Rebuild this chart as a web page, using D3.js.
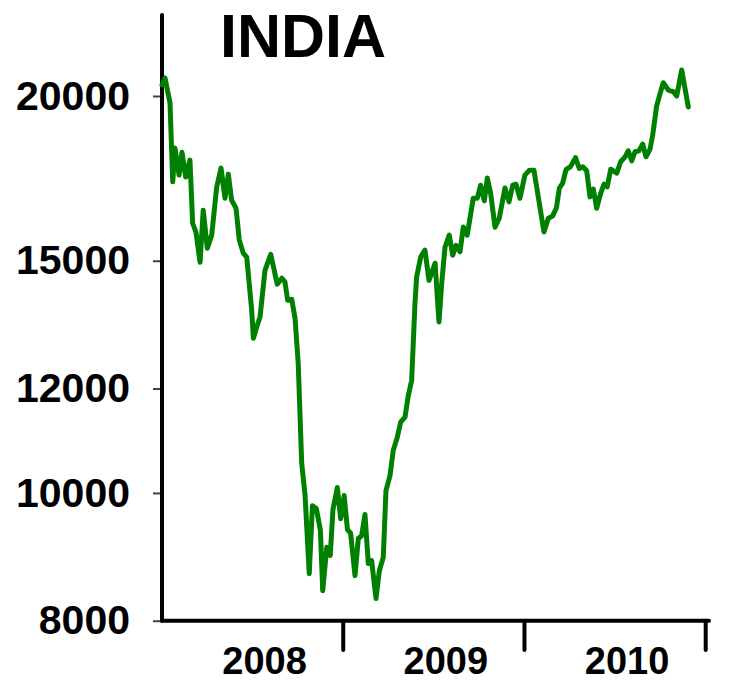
<!DOCTYPE html>
<html>
<head>
<meta charset="utf-8">
<script src="https://cdn.jsdelivr.net/npm/d3@7"></script>
<style>
  body { margin: 0; background: #fff; }
  svg { display: block; font-family: "Liberation Sans", Arial, sans-serif; font-weight: bold; }
</style>
</head>
<body>
<div id="chart"></div>
<script>
// months since Jan 2008 and index level
const months = [0, 0.20, 0.53, 0.71, 0.86, 1.13, 1.32, 1.57, 1.85, 2.03, 2.25, 2.52, 2.73, 3.00, 3.29, 3.62,
  3.91, 4.17, 4.39, 4.61, 4.90, 5.12, 5.38, 5.61, 5.94, 6.05, 6.27, 6.49, 6.82, 7.20, 7.63, 7.93,
  8.14, 8.32, 8.59, 8.81, 9.02, 9.25, 9.47, 9.75, 9.96, 10.22, 10.49, 10.64, 10.91, 11.14, 11.32,
  11.61, 11.83, 12.06, 12.28, 12.49, 12.78, 13.00, 13.22, 13.44, 13.66, 13.88, 14.17, 14.39, 14.65,
  14.83, 15.10, 15.31, 15.58, 15.80, 16.09, 16.31, 16.53, 16.75, 16.86, 17.13, 17.41, 17.68, 18.08,
  18.34, 18.52, 18.74, 19.02, 19.25, 19.47, 19.73, 19.95, 20.21, 20.61, 20.88, 21.10, 21.34, 21.54,
  21.76, 22.05, 22.33, 22.71, 22.98, 23.22, 23.44, 23.70, 24.03, 24.33, 24.63, 25.29, 25.58, 25.86,
  26.12, 26.31, 26.53, 26.75, 27.05, 27.38, 27.63, 27.86, 28.12, 28.34, 28.56, 28.78, 29.05, 29.27,
  29.48, 29.71, 30.11, 30.37, 30.66, 30.87, 31.10, 31.32, 31.58, 31.83, 32.05, 32.31, 32.49, 32.75,
  32.97, 33.19, 33.52, 33.85, 34.08, 34.41, 34.85];

const values = [20390, 20640, 19755, 17215, 18260, 17420, 18130, 17360, 17880, 16015, 15765, 14960,
  16385, 15330, 15685, 17055, 17635, 16730, 17450, 16675, 16440, 15550, 15200, 15095, 13755, 13100,
  13360, 13595, 14750, 15170, 14395, 14550, 14455, 14000, 14025, 13565, 12540, 10530, 9970, 8685,
  9780, 9730, 9365, 8430, 9095, 8965, 9715, 10095, 9560, 9955, 9380, 9320, 8655, 9235, 9280, 9630,
  8840, 8885, 8315, 8730, 8935, 10040, 10310, 10770, 11020, 11315, 11415, 11855, 12170, 13925, 14580,
  15100, 15280, 14495, 14935, 13480, 14420, 15365, 15685, 15145, 15410, 15235, 15910, 15685, 16730,
  16730, 17115, 16655, 17330, 16880, 15905, 16155, 17030, 16625, 17115, 17145, 16730, 17420, 17570,
  17565, 15775, 16155, 16215, 16455, 17030, 17175, 17585, 17680, 17960, 17620, 17675, 17550, 16770,
  17000, 16440, 16880, 17145, 17065, 17600, 17480, 17830, 17985, 18175, 17860, 18145, 18175, 18390,
  17985, 18220, 18680, 19650, 20070, 20470, 20210, 20150, 20000, 20930, 19620];

const yTicks = [8000, 10000, 12000, 15000, 20000];
const yearStarts = [0, 12, 24, 36];
const yearLabels = ["2008", "2009", "2010"];
const title = "INDIA";

const width = 729, height = 694;
const svg = d3.select("#chart").append("svg")
  .attr("width", width)
  .attr("height", height);

const x = d3.scaleLinear().domain([0, 36]).range([162, 705.7]);
const y = d3.scaleLog().domain([8000, 20000]).range([620.7, 96]);

// y axis
const yAxis = svg.append("g")
  .attr("transform", "translate(162,0)")
  .call(d3.axisLeft(y).tickValues(yTicks).tickFormat(d3.format("d")).tickSize(9).tickPadding(23));
yAxis.select(".domain").remove();
yAxis.selectAll(".tick line").attr("stroke", "#444").attr("stroke-width", 2);
yAxis.selectAll(".tick text")
  .attr("fill", "#000")
  .style("font-size", "41px")
  .style("font-weight", "bold")
  .style("font-family", "'Liberation Sans', Arial, sans-serif");

svg.append("line")
  .attr("x1", 162).attr("x2", 162)
  .attr("y1", 15).attr("y2", 620.7)
  .attr("stroke", "#000").attr("stroke-width", 4).attr("stroke-linecap", "round");

// x axis
svg.append("line")
  .attr("x1", 162).attr("x2", 709)
  .attr("y1", 620.7).attr("y2", 620.7)
  .attr("stroke", "#000").attr("stroke-width", 4).attr("stroke-linecap", "round");

svg.selectAll(".xtick")
  .data(yearStarts.slice(1))
  .enter().append("line")
  .attr("class", "xtick")
  .attr("x1", d => x(d)).attr("x2", d => x(d))
  .attr("y1", 620.7).attr("y2", 650)
  .attr("stroke", "#000").attr("stroke-width", 4).attr("stroke-linecap", "round");

// year labels sit a little right of the mid-year point
svg.selectAll(".xlabel")
  .data(yearLabels)
  .enter().append("text")
  .attr("class", "xlabel")
  .attr("x", (d, i) => x(yearStarts[i] + 6))
  .attr("dx", 12)
  .attr("y", 674)
  .attr("text-anchor", "middle")
  .style("font-size", "38px")
  .text(d => d);

// title
svg.append("text")
  .attr("x", 303)
  .attr("y", 57)
  .attr("text-anchor", "middle")
  .style("font-size", "61px")
  .text(title);

// index line
const line = d3.line()
  .x((d, i) => x(months[i]))
  .y(d => y(d));

svg.append("path")
  .datum(values)
  .attr("d", line)
  .attr("fill", "none")
  .attr("stroke", "#008000")
  .attr("stroke-width", 5)
  .attr("stroke-linejoin", "round")
  .attr("stroke-linecap", "round");
</script>
</body>
</html>
